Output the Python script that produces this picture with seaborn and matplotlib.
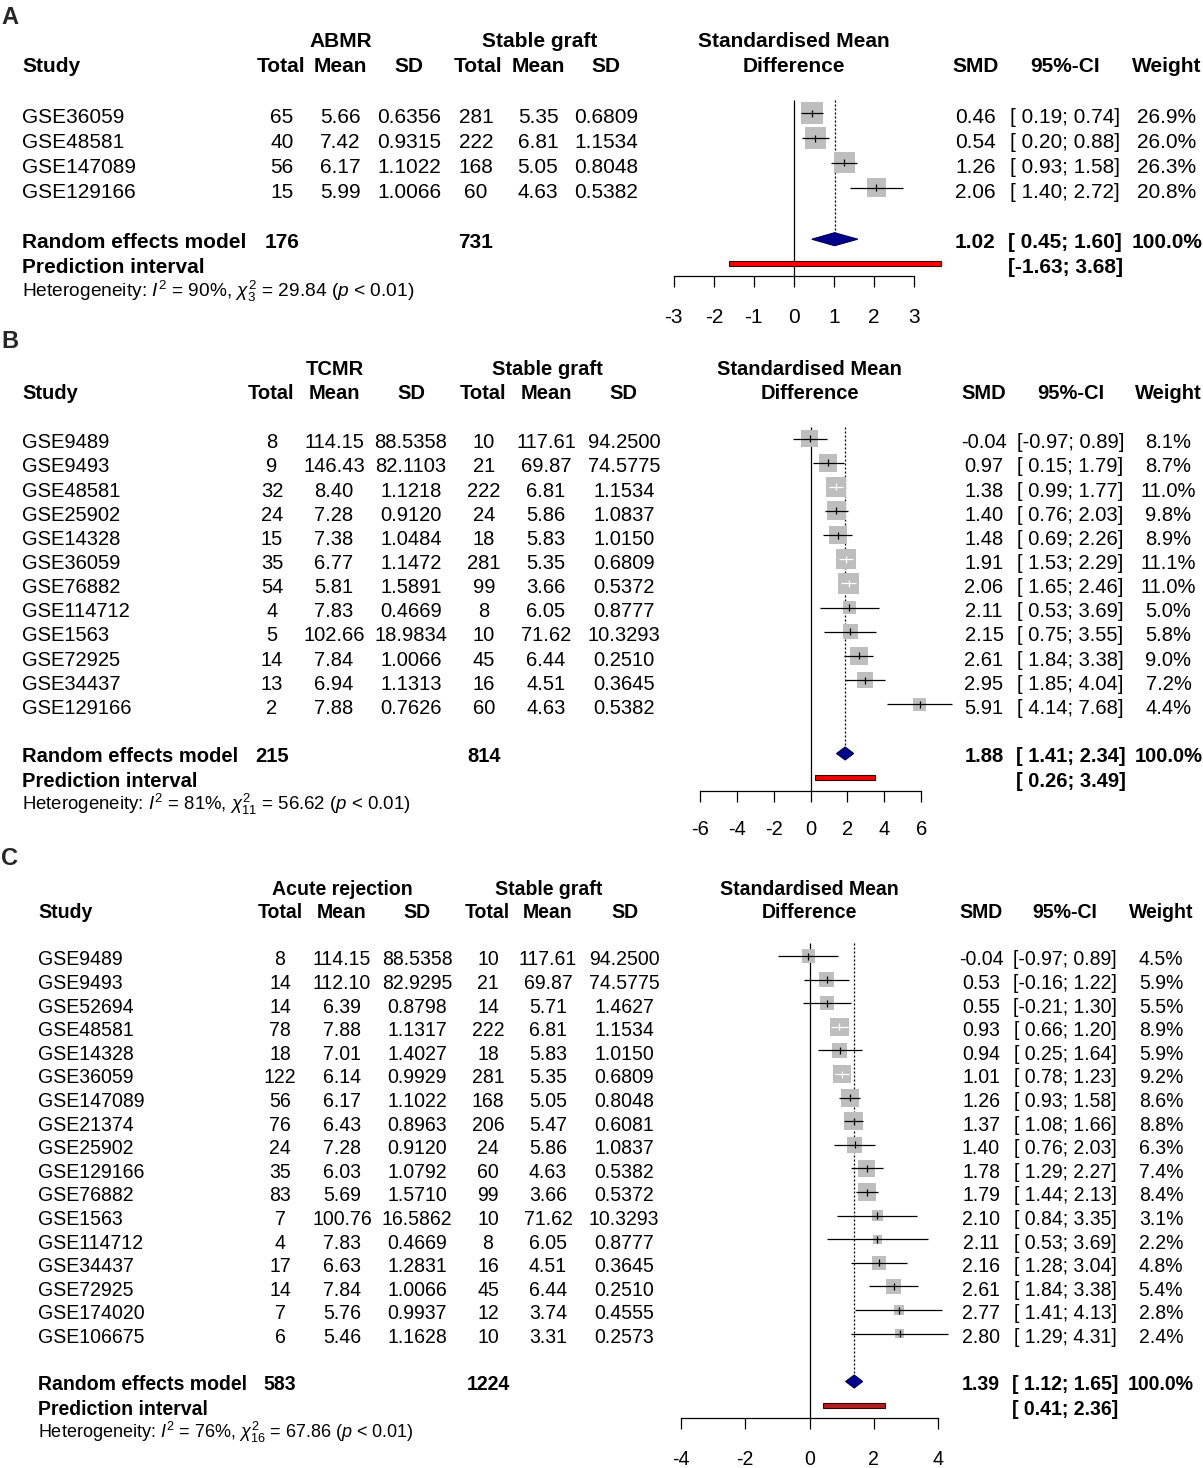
import matplotlib
matplotlib.use("Agg")
import matplotlib.pyplot as plt
import seaborn as sns
import numpy as np
import pandas as pd
from matplotlib.patches import Rectangle, Polygon

# ---------------- DATA ----------------
# Panel A: ABMR vs stable graft
A_STUDY = ["GSE36059", "GSE48581", "GSE147089", "GSE129166"]
A_N1 = [65, 40, 56, 15]
A_M1 = [5.66, 7.42, 6.17, 5.99]
A_SD1 = [0.6356, 0.9315, 1.1022, 1.0066]
A_N2 = [281, 222, 168, 60]
A_M2 = [5.35, 6.81, 5.05, 4.63]
A_SD2 = [0.6809, 1.1534, 0.8048, 0.5382]
A_SMD = [0.46, 0.54, 1.26, 2.06]
A_LO = [0.19, 0.20, 0.93, 1.40]
A_HI = [0.74, 0.88, 1.58, 2.72]
A_W = [26.9, 26.0, 26.3, 20.8]
A_TOTALS = [176, 731]
A_POOLED = [1.02, 0.45, 1.60]
A_PI = [-1.63, 3.68]
A_HET = ["90%", "3", "29.84"]

# Panel B: TCMR vs stable graft
B_STUDY = ["GSE9489", "GSE9493", "GSE48581", "GSE25902", "GSE14328", "GSE36059",
           "GSE76882", "GSE114712", "GSE1563", "GSE72925", "GSE34437", "GSE129166"]
B_N1 = [8, 9, 32, 24, 15, 35, 54, 4, 5, 14, 13, 2]
B_M1 = [114.15, 146.43, 8.40, 7.28, 7.38, 6.77, 5.81, 7.83, 102.66, 7.84, 6.94, 7.88]
B_SD1 = [88.5358, 82.1103, 1.1218, 0.9120, 1.0484, 1.1472, 1.5891, 0.4669, 18.9834, 1.0066, 1.1313, 0.7626]
B_N2 = [10, 21, 222, 24, 18, 281, 99, 8, 10, 45, 16, 60]
B_M2 = [117.61, 69.87, 6.81, 5.86, 5.83, 5.35, 3.66, 6.05, 71.62, 6.44, 4.51, 4.63]
B_SD2 = [94.2500, 74.5775, 1.1534, 1.0837, 1.0150, 0.6809, 0.5372, 0.8777, 10.3293, 0.2510, 0.3645, 0.5382]
B_SMD = [-0.04, 0.97, 1.38, 1.40, 1.48, 1.91, 2.06, 2.11, 2.15, 2.61, 2.95, 5.91]
B_LO = [-0.97, 0.15, 0.99, 0.76, 0.69, 1.53, 1.65, 0.53, 0.75, 1.84, 1.85, 4.14]
B_HI = [0.89, 1.79, 1.77, 2.03, 2.26, 2.29, 2.46, 3.69, 3.55, 3.38, 4.04, 7.68]
B_W = [8.1, 8.7, 11.0, 9.8, 8.9, 11.1, 11.0, 5.0, 5.8, 9.0, 7.2, 4.4]
B_TOTALS = [215, 814]
B_POOLED = [1.88, 1.41, 2.34]
B_PI = [0.26, 3.49]
B_HET = ["81%", "11", "56.62"]

# Panel C: acute rejection vs stable graft
C_STUDY = ["GSE9489", "GSE9493", "GSE52694", "GSE48581", "GSE14328", "GSE36059",
           "GSE147089", "GSE21374", "GSE25902", "GSE129166", "GSE76882", "GSE1563",
           "GSE114712", "GSE34437", "GSE72925", "GSE174020", "GSE106675"]
C_N1 = [8, 14, 14, 78, 18, 122, 56, 76, 24, 35, 83, 7, 4, 17, 14, 7, 6]
C_M1 = [114.15, 112.10, 6.39, 7.88, 7.01, 6.14, 6.17, 6.43, 7.28, 6.03, 5.69, 100.76,
        7.83, 6.63, 7.84, 5.76, 5.46]
C_SD1 = [88.5358, 82.9295, 0.8798, 1.1317, 1.4027, 0.9929, 1.1022, 0.8963, 0.9120,
         1.0792, 1.5710, 16.5862, 0.4669, 1.2831, 1.0066, 0.9937, 1.1628]
C_N2 = [10, 21, 14, 222, 18, 281, 168, 206, 24, 60, 99, 10, 8, 16, 45, 12, 10]
C_M2 = [117.61, 69.87, 5.71, 6.81, 5.83, 5.35, 5.05, 5.47, 5.86, 4.63, 3.66, 71.62,
        6.05, 4.51, 6.44, 3.74, 3.31]
C_SD2 = [94.2500, 74.5775, 1.4627, 1.1534, 1.0150, 0.6809, 0.8048, 0.6081, 1.0837,
         0.5382, 0.5372, 10.3293, 0.8777, 0.3645, 0.2510, 0.4555, 0.2573]
C_SMD = [-0.04, 0.53, 0.55, 0.93, 0.94, 1.01, 1.26, 1.37, 1.40, 1.78, 1.79, 2.10,
         2.11, 2.16, 2.61, 2.77, 2.80]
C_LO = [-0.97, -0.16, -0.21, 0.66, 0.25, 0.78, 0.93, 1.08, 0.76, 1.29, 1.44, 0.84,
        0.53, 1.28, 1.84, 1.41, 1.29]
C_HI = [0.89, 1.22, 1.30, 1.20, 1.64, 1.23, 1.58, 1.66, 2.03, 2.27, 2.13, 3.35,
        3.69, 3.04, 3.38, 4.13, 4.31]
C_W = [4.5, 5.9, 5.5, 8.9, 5.9, 9.2, 8.6, 8.8, 6.3, 7.4, 8.4, 3.1, 2.2, 4.8, 5.4, 2.8, 2.4]
C_TOTALS = [583, 1224]
C_POOLED = [1.39, 1.12, 1.65]
C_PI = [0.41, 2.36]
C_HET = ["76%", "16", "67.86"]

GROUP_LABELS = ["ABMR", "TCMR", "Acute rejection"]
CONTROL_LABEL = "Stable graft"
TICKS_A = [-3, -2, -1, 0, 1, 2, 3]
TICKS_B = [-6, -4, -2, 0, 2, 4, 6]
TICKS_C = [-4, -2, 0, 2, 4]

# ---------------- STYLE ----------------
sns.set_theme(style="white")
plt.rcParams["font.family"] = ["Liberation Sans", "DejaVu Sans"]
plt.rcParams["axes.unicode_minus"] = False
plt.rcParams["mathtext.fontset"] = "custom"
plt.rcParams["mathtext.rm"] = "Liberation Sans"
plt.rcParams["mathtext.it"] = "Liberation Sans:italic"
plt.rcParams["mathtext.bf"] = "Liberation Sans:bold"
plt.rcParams["mathtext.sf"] = "Liberation Sans"

W, H = 1203, 1468
DPI = 100
SQUARE = "#BEBEBE"
NAVY = "#00008B"


def px(pt):
    return pt * DPI / 72.0


def cap_half(size):
    return 0.716 * px(size) / 2.0


fig = plt.figure(figsize=(W / DPI, H / DPI), dpi=DPI)
bg = fig.add_axes([0, 0, 1, 1])
bg.set_xlim(0, W)
bg.set_ylim(H, 0)
bg.axis("off")


def put(x, y, s, size, ha="center", bold=False):
    bg.text(x, y + cap_half(size), s, ha=ha, va="baseline", fontsize=size,
            fontweight="bold" if bold else "normal", color="black")


def ci_text(lo, hi):
    return "[" + f"{lo:5.2f}" + "; " + f"{hi:.2f}" + "]"


def draw_panel(cfg, d):
    fs = cfg["fs"]
    n = len(d["study"])
    rows = np.array([cfg["row0"] + i * cfg["dy"] for i in range(n)])
    # ---- letter ----
    bg.text(1, cfg["letter_base"], cfg["letter"], ha="left", va="baseline",
            fontsize=17, fontweight="bold")
    # ---- table headers ----
    put(cfg["grp_x"][0], cfg["grp_y"], d["group"], fs, bold=True)
    put(cfg["grp_x"][1], cfg["grp_y"], CONTROL_LABEL, fs, bold=True)
    put(cfg["study_x"], cfg["hdr_y"], "Study", fs, ha="left", bold=True)
    for x, lab in zip(cfg["hcol_x"], ["Total", "Mean", "SD", "Total", "Mean", "SD"]):
        put(x, cfg["hdr_y"], lab, fs, bold=True)
    put(cfg["zero_px"] + cfg["hdr_shift"], cfg["grp_y"], "Standardised Mean", fs, bold=True)
    put(cfg["zero_px"] + cfg["hdr_shift"], cfg["hdr_y"], "Difference", fs, bold=True)
    put(cfg["smd_x"], cfg["hdr_y"], "SMD", fs, bold=True)
    put(cfg["ci_x"], cfg["hdr_y"], "95%-CI", fs, bold=True)
    put(cfg["w_x"], cfg["hdr_y"], "Weight", fs, bold=True)
    # ---- study rows ----
    for i in range(n):
        y = rows[i]
        put(cfg["study_x"], y, d["study"][i], fs, ha="left")
        vals = [f"{d['n1'][i]}", f"{d['m1'][i]:.2f}", f"{d['sd1'][i]:.4f}",
                f"{d['n2'][i]}", f"{d['m2'][i]:.2f}", f"{d['sd2'][i]:.4f}"]
        for x, v in zip(cfg["col_x"], vals):
            put(x, y, v, fs)
        put(cfg["smd_x"], y, f"{d['smd'][i]:.2f}", fs)
        put(cfg["ci_x"], y, ci_text(d["lo"][i], d["hi"][i]), fs)
        put(cfg["w_x"], y, f"{d['w'][i]:.1f}%", fs)
    # ---- summary rows ----
    put(cfg["study_x"], cfg["re_y"], "Random effects model", fs, ha="left", bold=True)
    put(cfg["col_x"][0], cfg["re_y"], f"{d['totals'][0]}", fs, bold=True)
    put(cfg["col_x"][3], cfg["re_y"], f"{d['totals'][1]}", fs, bold=True)
    est, plo, phi = d["pooled"]
    put(cfg["smd_x"], cfg["re_y"], f"{est:.2f}", fs, bold=True)
    put(cfg["ci_x"], cfg["re_y"], ci_text(plo, phi), fs, bold=True)
    put(cfg["w_x"], cfg["re_y"], "100.0%", fs, bold=True)
    put(cfg["study_x"], cfg["pi_y"], "Prediction interval", fs, ha="left", bold=True)
    put(cfg["ci_x"], cfg["pi_y"], ci_text(d["pi"][0], d["pi"][1]), fs, bold=True)
    i2, df_, q = d["het"]
    het = ("Heterogeneity: $I^2$ = " + i2 + ", $\\chi^2_{" + df_ + "}$ = "
           + q + " ($p$ < 0.01)")
    fsh = cfg["fs_het"]
    bg.text(cfg["study_x"], cfg["het_y"] + cap_half(fsh), het, ha="left",
            va="baseline", fontsize=fsh, color="black")

    # ---- forest axes: x in SMD units, y in pixel rows ----
    zero, unit = cfg["zero_px"], cfg["unit"]
    ax = fig.add_axes([0, 0, 1, 1], facecolor="none")
    mrows = rows - 2.5
    wmax = max(d["w"])
    side_max = cfg["sq_px"]
    smax = (side_max * 72.0 / DPI) ** 2
    df = pd.DataFrame({"smd": d["smd"], "row": mrows, "w": d["w"]})
    sns.scatterplot(data=df, x="smd", y="row", size="w", sizes=(0, smax),
                    size_norm=(0, wmax), marker="s", color=SQUARE, linewidth=0,
                    legend=False, ax=ax, zorder=2)
    ax.set_xlim((0 - zero) / unit, (W - zero) / unit)
    ax.set_ylim(H, 0)
    ax.set_xlabel("")
    ax.set_ylabel("")
    # CI lines (white if fully inside square)
    cols = []
    for s_, lo, hi, w in zip(d["smd"], d["lo"], d["hi"], d["w"]):
        half = side_max * np.sqrt(w / wmax) / 2.0 / unit
        inside = (lo > s_ - half) and (hi < s_ + half)
        cols.append("white" if inside else "black")
    ax.hlines(mrows, d["lo"], d["hi"], colors=cols, lw=0.9, zorder=3)
    ax.vlines(d["smd"], mrows - 3.5, mrows + 3.5, colors=cols, lw=0.9, zorder=3)
    # reference lines
    ax.vlines([0], cfg["zl_top"], cfg["axis_y"], colors="black", lw=0.9, zorder=1)
    dy_ = cfg["re_y"] - 1.5
    ax.vlines([est], cfg["zl_top"], dy_ - 6.5, colors="black", lw=0.9,
              linestyles=(0, (1.6, 1.6)), zorder=1)
    # diamond
    ax.add_patch(Polygon([(plo, dy_), (est, dy_ - 6.5), (phi, dy_), (est, dy_ + 6.5)],
                         closed=True, fc=NAVY, ec="#000050", lw=0.8, zorder=4))
    # prediction interval bar
    py = cfg["pi_y"] - 2.5
    ax.add_patch(Rectangle((d["pi"][0], py - 2.6), d["pi"][1] - d["pi"][0], 5.2,
                           fc=cfg["pi_col"], ec="#3a0000", lw=0.8, zorder=4))
    # axis
    for s in ["top", "left", "right"]:
        ax.spines[s].set_visible(False)
    ax.spines["bottom"].set_visible(True)
    ax.spines["bottom"].set_position(("data", cfg["axis_y"]))
    ax.spines["bottom"].set_bounds(cfg["ticks"][0], cfg["ticks"][-1])
    ax.spines["bottom"].set_color("black")
    ax.spines["bottom"].set_linewidth(0.9)
    ax.set_xticks(cfg["ticks"])
    ax.set_xticklabels([str(t) for t in cfg["ticks"]])
    ax.set_yticks([])
    tl = 11.5
    pad_px = cfg["tick_lab_y"] - cfg["axis_y"] - tl - 0.716 * px(fs) / 2.0
    ax.tick_params(axis="x", bottom=True, direction="out", length=tl * 0.72,
                   width=0.9, color="black", labelcolor="black", labelsize=fs,
                   pad=pad_px * 0.72)
    ax.grid(False)


DATA = [
    dict(study=A_STUDY, n1=A_N1, m1=A_M1, sd1=A_SD1, n2=A_N2, m2=A_M2, sd2=A_SD2,
         smd=A_SMD, lo=A_LO, hi=A_HI, w=A_W, totals=A_TOTALS, pooled=A_POOLED,
         pi=A_PI, het=A_HET, group=GROUP_LABELS[0]),
    dict(study=B_STUDY, n1=B_N1, m1=B_M1, sd1=B_SD1, n2=B_N2, m2=B_M2, sd2=B_SD2,
         smd=B_SMD, lo=B_LO, hi=B_HI, w=B_W, totals=B_TOTALS, pooled=B_POOLED,
         pi=B_PI, het=B_HET, group=GROUP_LABELS[1]),
    dict(study=C_STUDY, n1=C_N1, m1=C_M1, sd1=C_SD1, n2=C_N2, m2=C_M2, sd2=C_SD2,
         smd=C_SMD, lo=C_LO, hi=C_HI, w=C_W, totals=C_TOTALS, pooled=C_POOLED,
         pi=C_PI, het=C_HET, group=GROUP_LABELS[2]),
]

LAYOUT = [
    dict(letter="A", letter_base=24, grp_y=40, hdr_y=65, study_x=22, fs=15.0, fs_het=13.8,
         grp_x=[341, 540], hcol_x=[281, 340, 409, 478, 538, 606],
         col_x=[282, 340, 409, 476, 538, 606], row0=115.7, dy=24.8,
         re_y=240.7, pi_y=266, het_y=290, zero_px=793.8, unit=39.98, hdr_shift=0,
         axis_y=276, ticks=TICKS_A, tick_lab_y=315, zl_top=100, sq_px=21.5,
         smd_x=975.5, ci_x=1065, w_x=1167, pi_col="#FF0000"),
    dict(letter="B", letter_base=348, grp_y=367.7, hdr_y=392, study_x=22, fs=14.5, fs_het=13.4,
         grp_x=[335, 547], hcol_x=[271, 334, 411, 483, 546, 623],
         col_x=[272, 334, 411, 484, 546, 624], row0=441, dy=24.15,
         re_y=755, pi_y=780, het_y=803.5, zero_px=810.5, unit=18.45, hdr_shift=-1,
         axis_y=791, ticks=TICKS_B, tick_lab_y=827, zl_top=427, sq_px=20.3,
         smd_x=984, ci_x=1070.5, w_x=1168.5, pi_col="#F00000"),
    dict(letter="C", letter_base=865, grp_y=887.7, hdr_y=910.7, study_x=38, fs=14.05, fs_het=13.0,
         grp_x=[342, 549], hcol_x=[280.6, 342, 417, 487, 548, 624.5],
         col_x=[280, 342, 417, 488, 548, 624], row0=958.5, dy=23.6,
         re_y=1383, pi_y=1408, het_y=1432, zero_px=809.5, unit=32.2, hdr_shift=0,
         axis_y=1418.3, ticks=TICKS_C, tick_lab_y=1456.7, zl_top=943, sq_px=18.7,
         smd_x=981, ci_x=1065, w_x=1161, pi_col="#B01E22"),
]

for cfg, d in zip(LAYOUT, DATA):
    draw_panel(cfg, d)

fig.savefig("out.png", dpi=DPI, facecolor="white")
